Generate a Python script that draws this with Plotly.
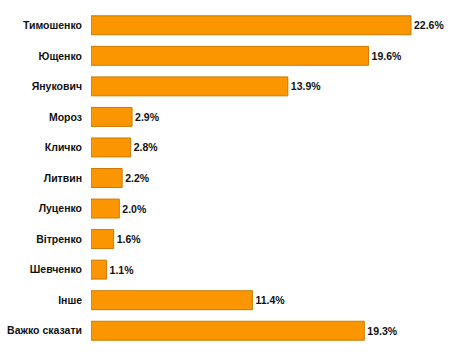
import plotly.graph_objects as go

categories = ["Тимошенко", "Ющенко", "Янукович", "Мороз", "Кличко", "Литвин",
              "Луценко", "Вітренко", "Шевченко", "Інше", "Важко сказати"]
values = [22.6, 19.6, 13.9, 2.9, 2.8, 2.2, 2.0, 1.6, 1.1, 11.4, 19.3]
labels = [f"{v:.1f}%" for v in values]

fig = go.Figure(go.Bar(
    x=values, y=categories, orientation="h",
    text=labels, textposition="outside", cliponaxis=False,
    textfont=dict(family="Liberation Sans, Arial", size=10.5, color="#111111", weight="bold"),
    marker=dict(color="#FB9600", line=dict(color="#CC7A00", width=1)),
    width=0.62,
    hoverinfo="skip",
))

fig.update_layout(
    width=450, height=359,
    margin=dict(l=91, r=5, t=10, b=13, autoexpand=False),
    paper_bgcolor="white", plot_bgcolor="white",
    showlegend=False,
    font=dict(family="Liberation Sans, Arial", size=10.5, color="#111111"),
    uniformtext=dict(minsize=8, mode="show"),
    xaxis=dict(range=[0, 25], visible=False, fixedrange=True, automargin=False),
    yaxis=dict(autorange=False, range=[10.5, -0.5], categoryorder="array",
               categoryarray=categories, showgrid=False, zeroline=False,
               showline=False, ticks="", ticklabelstandoff=8, automargin=False,
               fixedrange=True,
               tickfont=dict(family="Liberation Sans, Arial", size=10.5,
                             color="#111111", weight="bold")),
)

fig.write_html("out.html", config={"displayModeBar": False},
               post_script="document.body.style.margin='0';document.body.style.overflow='hidden';")
